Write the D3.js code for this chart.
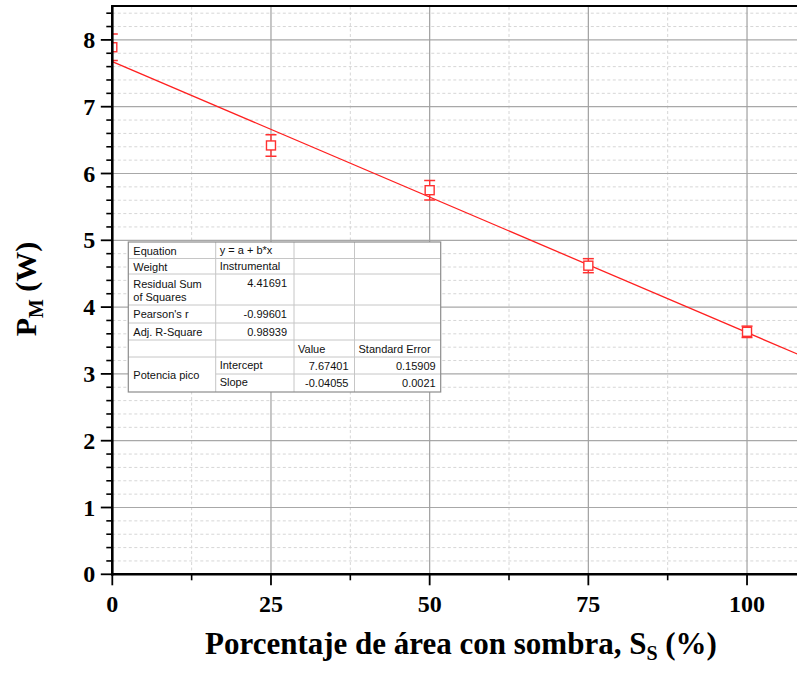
<!DOCTYPE html>
<html>
<head>
<meta charset="utf-8">
<script src="https://cdn.jsdelivr.net/npm/d3@7"></script>
<style>
  html, body { margin: 0; padding: 0; background: #fff; }
  svg { display: block; }
</style>
</head>
<body>
<svg id="chart" width="797" height="673"></svg>
<script>
// ---------------- DATA ----------------
const shadePercent = [0, 25, 50, 75, 100];
const peakPower = [7.89, 6.42, 5.75, 4.62, 3.63];
const peakPowerError = [0.2, 0.16, 0.145, 0.105, 0.085];
const fitIntercept = 7.67401;
const fitSlope = -0.04055;
const xTickValues = [0, 25, 50, 75, 100];
const yTickValues = [0, 1, 2, 3, 4, 5, 6, 7, 8];
const xDomain = [0, 108];
const yDomain = [0, 8.5];

// Fit report table (rows of text)
const tableRowLabels = ["Equation", "Weight", "Residual Sum|of Squares", "Pearson's r", "Adj. R-Square", "", "Potencia pico", ""];
const tableCol2 = ["y = a + b*x", "Instrumental", "4.41691", "-0.99601", "0.98939", "", "Intercept", "Slope"];
const tableCol3 = ["", "", "", "", "", "Value", "7.67401", "-0.04055"];
const tableCol4 = ["", "", "", "", "", "Standard Error", "0.15909", "0.0021"];

// ---------------- LAYOUT ----------------
const svg = d3.select("#chart");
const plotLeft = 112.3, plotRight = 797.8, plotBottom = 574.3, plotTop = 6.5;
const x = d3.scaleLinear().domain(xDomain).range([plotLeft, plotRight]);
const y = d3.scaleLinear().domain(yDomain).range([plotBottom, plotTop]);

const serif = "'Liberation Serif', 'Times New Roman', serif";
const sans = "'Liberation Sans', Arial, sans-serif";

svg.append("defs").append("clipPath").attr("id", "plotClip")
  .append("rect").attr("x", plotLeft).attr("y", plotTop)
  .attr("width", plotRight - plotLeft).attr("height", plotBottom - plotTop);

// ---------------- GRID ----------------
const grid = svg.append("g");
const yMinor = d3.range(0.2, 8.5, 0.2).filter(v => Math.abs(v - Math.round(v)) > 0.01);
const xMinor = d3.range(12.5, 108, 25);
grid.selectAll(".ymin").data(yMinor).enter().append("line")
  .attr("x1", plotLeft).attr("x2", plotRight)
  .attr("y1", d => y(d)).attr("y2", d => y(d))
  .attr("stroke", "#d6d6d6").attr("stroke-width", 1).attr("stroke-dasharray", "3,2.5");
grid.selectAll(".xmin").data(xMinor).enter().append("line")
  .attr("y1", plotTop).attr("y2", plotBottom)
  .attr("x1", d => x(d)).attr("x2", d => x(d))
  .attr("stroke", "#d6d6d6").attr("stroke-width", 1).attr("stroke-dasharray", "3,2.5");
grid.selectAll(".ymaj").data(yTickValues.filter(d => d > 0)).enter().append("line")
  .attr("x1", plotLeft).attr("x2", plotRight)
  .attr("y1", d => y(d)).attr("y2", d => y(d))
  .attr("stroke", "#a8a8a8").attr("stroke-width", 1.2);
grid.selectAll(".xmaj").data(xTickValues.filter(d => d > 0)).enter().append("line")
  .attr("y1", plotTop).attr("y2", plotBottom)
  .attr("x1", d => x(d)).attr("x2", d => x(d))
  .attr("stroke", "#a0a0a0").attr("stroke-width", 1.2);

// ---------------- FIT LINE ----------------
const plotG = svg.append("g").attr("clip-path", "url(#plotClip)");
const fitLine = d3.line().x(d => x(d)).y(d => y(fitIntercept + fitSlope * d));
plotG.append("path").datum(xDomain)
  .attr("d", fitLine).attr("fill", "none")
  .attr("stroke", "#ff2020").attr("stroke-width", 1.3);

// ---------------- ERROR BARS + MARKERS ----------------
const pts = shadePercent.map((s, i) => ({ s, p: peakPower[i], e: peakPowerError[i] }));
const red = "#ff3030";
const eg = plotG.selectAll(".pt").data(pts).enter().append("g");
eg.append("line")
  .attr("x1", d => x(d.s)).attr("x2", d => x(d.s))
  .attr("y1", d => y(d.p + d.e)).attr("y2", d => y(d.p - d.e))
  .attr("stroke", red).attr("stroke-width", 1.3);
[1, -1].forEach(sign => {
  eg.append("line")
    .attr("x1", d => x(d.s) - 5.5).attr("x2", d => x(d.s) + 5.5)
    .attr("y1", d => y(d.p + sign * d.e)).attr("y2", d => y(d.p + sign * d.e))
    .attr("stroke", red).attr("stroke-width", 1.5);
});
eg.append("rect")
  .attr("x", d => x(d.s) - 4.5).attr("y", d => y(d.p) - 4.5)
  .attr("width", 9).attr("height", 9)
  .attr("fill", "#fff").attr("stroke", red).attr("stroke-width", 1.4);

// ---------------- AXES ----------------
const axes = svg.append("g");
axes.selectAll(".ytm").data(yMinor).enter().append("line")
  .attr("x1", plotLeft - 6).attr("x2", plotLeft)
  .attr("y1", d => y(d)).attr("y2", d => y(d))
  .attr("stroke", "#000").attr("stroke-width", 1.6);
axes.selectAll(".ytM").data(yTickValues).enter().append("line")
  .attr("x1", plotLeft - 11.5).attr("x2", plotLeft)
  .attr("y1", d => y(d)).attr("y2", d => y(d))
  .attr("stroke", "#000").attr("stroke-width", 1.8);
axes.selectAll(".ytl").data(yTickValues).enter().append("text")
  .attr("x", plotLeft - 17).attr("y", d => y(d)).attr("dy", "0.34em")
  .attr("text-anchor", "end")
  .attr("font-family", serif).attr("font-weight", "bold").attr("font-size", 24)
  .text(d => d);
axes.selectAll(".xtm").data(xMinor).enter().append("line")
  .attr("x1", d => x(d)).attr("x2", d => x(d))
  .attr("y1", plotBottom).attr("y2", plotBottom + 6)
  .attr("stroke", "#000").attr("stroke-width", 1.6);
axes.selectAll(".xtM").data(xTickValues).enter().append("line")
  .attr("x1", d => x(d)).attr("x2", d => x(d))
  .attr("y1", plotBottom).attr("y2", plotBottom + 11)
  .attr("stroke", "#000").attr("stroke-width", 1.8);
axes.selectAll(".xtl").data(xTickValues).enter().append("text")
  .attr("x", d => x(d)).attr("y", plotBottom + 37.5)
  .attr("text-anchor", "middle")
  .attr("font-family", serif).attr("font-weight", "bold").attr("font-size", 24)
  .text(d => d);
axes.append("line").attr("x1", plotLeft).attr("x2", plotLeft)
  .attr("y1", plotTop - 1).attr("y2", plotBottom + 1.2)
  .attr("stroke", "#000").attr("stroke-width", 2.6);
axes.append("line").attr("x1", plotLeft - 1.2).attr("x2", plotRight)
  .attr("y1", plotBottom).attr("y2", plotBottom)
  .attr("stroke", "#000").attr("stroke-width", 2.6);
axes.append("line").attr("x1", plotLeft - 1.2).attr("x2", plotRight)
  .attr("y1", plotTop - 0.5).attr("y2", plotTop - 0.5)
  .attr("stroke", "#000").attr("stroke-width", 2.2);

// Axis titles
const xt = svg.append("text").attr("x", 461).attr("y", 654)
  .attr("text-anchor", "middle")
  .attr("font-family", serif).attr("font-weight", "bold").attr("font-size", 31);
xt.append("tspan").text("Porcentaje de área con sombra, S");
xt.append("tspan").attr("font-size", 20).attr("dy", 6).text("S");
xt.append("tspan").attr("dy", -6).text(" (%)");

const yt = svg.append("text").attr("transform", "translate(36,289) rotate(-90)")
  .attr("text-anchor", "middle")
  .attr("font-family", serif).attr("font-weight", "bold").attr("font-size", 30);
yt.append("tspan").text("P");
yt.append("tspan").attr("font-size", 20).attr("dy", 7).text("M");
yt.append("tspan").attr("dy", -7).text(" (W)");

// ---------------- TABLE ----------------
const colEdges = [128.3, 215.7, 294, 354.5, 440.7];
const rowEdges = [242, 258.5, 274, 305, 323, 340, 357, 374, 392];
const tbl = svg.append("g");
tbl.append("rect").attr("x", colEdges[0]).attr("y", rowEdges[0])
  .attr("width", colEdges[4] - colEdges[0]).attr("height", rowEdges[8] - rowEdges[0])
  .attr("fill", "#fff");
const lineCol = "#c6c6c6";
rowEdges.slice(1, -1).forEach((ry, i) => {
  const startX = (i === 6) ? colEdges[1] : colEdges[0];
  tbl.append("line").attr("x1", startX).attr("x2", colEdges[4])
    .attr("y1", ry).attr("y2", ry).attr("stroke", lineCol).attr("stroke-width", 1);
});
colEdges.slice(1, -1).forEach(cx => {
  tbl.append("line").attr("x1", cx).attr("x2", cx)
    .attr("y1", rowEdges[0]).attr("y2", rowEdges[8]).attr("stroke", lineCol).attr("stroke-width", 1);
});
tbl.append("rect").attr("x", colEdges[0]).attr("y", rowEdges[0])
  .attr("width", colEdges[4] - colEdges[0]).attr("height", rowEdges[8] - rowEdges[0])
  .attr("fill", "none").attr("stroke", "#8c8c8c").attr("stroke-width", 1.2);

function cellText(txt, tx, ty, anchor) {
  if (!txt) return;
  tbl.append("text").attr("x", tx).attr("y", ty).attr("text-anchor", anchor)
    .attr("font-family", sans).attr("font-size", 11).attr("fill", "#111").text(txt);
}
const isNum = s => /^-?[0-9.]+$/.test(s);
tableRowLabels.forEach((lbl, i) => {
  const base = rowEdges[i] + 12.5;
  if (lbl.includes("|")) {
    lbl.split("|").forEach((part, k) => cellText(part, colEdges[0] + 5, base + 1.5 + k * 13, "start"));
  } else if (i === 6) {
    cellText(lbl, colEdges[0] + 5, (rowEdges[6] + rowEdges[8]) / 2 + 4, "start");
  } else {
    cellText(lbl, colEdges[0] + 5, base, "start");
  }
  const c2 = tableCol2[i];
  if (isNum(c2)) cellText(c2, colEdges[2] - 7, base, "end");
  else cellText(c2, colEdges[1] + 4, base - 1, "start");
  const c3 = tableCol3[i];
  if (isNum(c3)) cellText(c3, colEdges[3] - 6, base, "end");
  else cellText(c3, colEdges[2] + 4, base, "start");
  const c4 = tableCol4[i];
  if (isNum(c4)) cellText(c4, colEdges[4] - 5, base, "end");
  else cellText(c4, colEdges[3] + 4, base, "start");
});
</script>
</body>
</html>
